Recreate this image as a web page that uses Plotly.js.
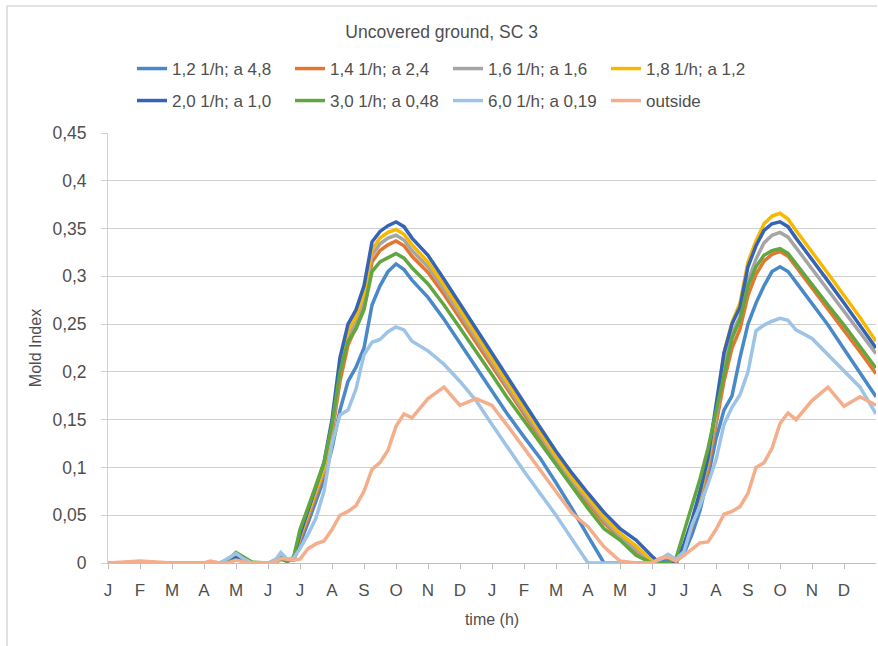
<!DOCTYPE html>
<html>
<head>
<meta charset="utf-8">
<script src="https://cdn.plot.ly/plotly-3.0.1.min.js"></script>
<style>html,body{margin:0;padding:0;background:#fff;}#chart{width:878px;height:646px;}</style>
</head>
<body>
<div id="chart"></div>
<script>
// time in months from start (two years)
const months = [0,1,2,3,3.2,3.5,3.75,4,4.25,4.5,5,5.25,5.4,5.6,5.8,
  6,6.25,6.5,6.75,7,7.25,7.5,7.75,8,8.25,8.5,8.75,9,9.25,9.5,
  10,10.5,11,11.5,12,12.5,13,13.5,14,14.5,15,15.5,16,16.5,17,17.25,17.5,17.75,
  18,18.25,18.5,18.75,19,19.25,19.5,19.75,20,20.25,20.5,20.75,21,21.25,21.5,
  22,22.5,23,23.5,24];

const s12 = [0,0,0,0,0,0,0.003,0.006,0.003,0,0,0.002,0.006,0.003,0.003,
  0.02,0.042,0.065,0.088,0.12,0.16,0.19,0.205,0.225,0.27,0.29,0.305,0.313,0.307,0.296,
  0.278,0.255,0.23,0.205,0.18,0.155,0.132,0.11,0.084,0.057,0.028,0,0,0,0,0,0.004,0.002,
  0.01,0.03,0.055,0.09,0.13,0.16,0.175,0.215,0.25,0.272,0.29,0.305,0.31,0.305,0.294,
  0.272,0.249,0.224,0.199,0.174];
const s14 = [0,0,0,0,0,0,0.002,0.005,0.002,0,0,0.001,0.004,0.002,0.004,
  0.025,0.047,0.07,0.095,0.135,0.19,0.228,0.247,0.27,0.315,0.327,0.333,0.337,0.332,0.321,
  0.304,0.281,0.256,0.231,0.206,0.18,0.155,0.131,0.106,0.083,0.062,0.042,0.026,0.01,0,0,0,0,
  0.015,0.038,0.065,0.098,0.145,0.19,0.225,0.245,0.28,0.302,0.316,0.323,0.326,0.321,0.31,
  0.288,0.266,0.244,0.221,0.198];
const s16 = [0,0,0,0,0,0,0.002,0.005,0.002,0,0,0.001,0.004,0.002,0.004,
  0.027,0.05,0.075,0.098,0.14,0.2,0.238,0.253,0.276,0.322,0.334,0.34,0.343,0.338,0.327,
  0.31,0.286,0.261,0.235,0.21,0.184,0.159,0.134,0.109,0.086,0.065,0.045,0.028,0.014,0,0,0,0,
  0.018,0.042,0.07,0.103,0.152,0.205,0.24,0.258,0.295,0.318,0.335,0.343,0.346,0.341,0.33,
  0.308,0.286,0.264,0.242,0.219];
const s18 = [0,0,0,0,0,0,0.002,0.005,0.002,0,0,0.001,0.004,0.002,0.004,
  0.028,0.052,0.077,0.1,0.145,0.205,0.243,0.258,0.282,0.328,0.34,0.346,0.349,0.344,0.333,
  0.315,0.291,0.265,0.24,0.214,0.188,0.163,0.137,0.112,0.089,0.068,0.048,0.031,0.018,0.002,0,0,0,
  0.018,0.043,0.073,0.108,0.16,0.22,0.252,0.272,0.315,0.337,0.355,0.363,0.366,0.36,0.348,
  0.326,0.303,0.28,0.257,0.232];
const s20 = [0,0,0,0,0,0,0.002,0.006,0.002,0,0,0.001,0.005,0.002,0.005,
  0.03,0.055,0.08,0.105,0.15,0.215,0.25,0.265,0.29,0.336,0.347,0.353,0.357,0.352,0.34,
  0.322,0.297,0.271,0.245,0.219,0.193,0.168,0.142,0.117,0.094,0.073,0.053,0.036,0.024,0.007,0,0,0,
  0.02,0.045,0.075,0.11,0.165,0.22,0.25,0.268,0.31,0.332,0.348,0.355,0.357,0.352,0.34,
  0.318,0.295,0.272,0.249,0.225];
const s30 = [0,0,0,0,0,0,0.003,0.011,0.006,0.001,0,0.001,0.005,0.002,0.006,
  0.035,0.058,0.082,0.105,0.145,0.2,0.232,0.245,0.265,0.305,0.315,0.32,0.324,0.319,0.309,
  0.292,0.27,0.246,0.222,0.197,0.172,0.149,0.126,0.102,0.079,0.057,0.036,0.024,0.008,0,0,0,0.005,
  0.032,0.06,0.088,0.12,0.158,0.2,0.235,0.255,0.29,0.31,0.322,0.327,0.329,0.324,0.313,
  0.292,0.27,0.249,0.227,0.204];
const s60 = [0,0,0,0,0,0,0.005,0.01,0.004,0,0,0.004,0.011,0.004,0.005,
  0.015,0.03,0.047,0.075,0.125,0.155,0.16,0.182,0.218,0.231,0.234,0.242,0.247,0.244,0.232,
  0.222,0.208,0.19,0.17,0.145,0.12,0.096,0.073,0.05,0.025,0,0,0,0,0,0.004,0.009,0.004,
  0.012,0.04,0.06,0.083,0.108,0.145,0.163,0.176,0.2,0.243,0.249,0.253,0.256,0.254,0.244,
  0.235,0.218,0.2,0.184,0.156];
const outside = [0,0.002,0,0,0.002,0,0,0.003,0.001,0,0,0.001,0.005,0.004,0.003,
  0.004,0.015,0.02,0.023,0.035,0.05,0.054,0.06,0.075,0.098,0.105,0.118,0.143,0.156,0.152,
  0.172,0.184,0.165,0.172,0.165,0.143,0.12,0.097,0.075,0.052,0.038,0.017,0.002,0,0,0.005,0.006,0.002,
  0.008,0.015,0.021,0.022,0.035,0.051,0.054,0.059,0.073,0.1,0.105,0.12,0.146,0.157,0.15,
  0.17,0.184,0.164,0.174,0.165];

const seriesNames = ['1,2 1/h; a 4,8','1,4 1/h; a 2,4','1,6 1/h; a 1,6','1,8 1/h; a 1,2',
  '2,0 1/h; a 1,0','3,0 1/h; a 0,48','6,0 1/h; a 0,19','outside'];
const seriesValues = [s12, s14, s16, s18, s20, s30, s60, outside];
const seriesColors = ['#4A89C8','#E4772F','#A5A5A5','#F7B900','#3564B6','#62A640','#9DC3E6','#F4AE8C'];

const monthTickVals = [0,1,2,3,4,5,6,7,8,9,10,11,12,13,14,15,16,17,18,19,20,21,22,23];
const monthTickText = ['J','F','M','A','M','J','J','A','S','O','N','D',
                       'J','F','M','A','M','J','J','A','S','O','N','D'];
const yTickVals = [0,0.05,0.1,0.15,0.2,0.25,0.3,0.35,0.4,0.45];
const yTickText = ['0','0,05','0,1','0,15','0,2','0,25','0,3','0,35','0,4','0,45'];

const FONT = 'Liberation Sans, Arial, sans-serif';
const TXT = '#4f4f4f';

const traces = seriesNames.map((name, i) => ({
  type: 'scatter', mode: 'lines', name: name,
  x: months, y: seriesValues[i],
  line: {color: seriesColors[i], width: 3.5},
  legend: i < 4 ? 'legend' : 'legend2'
}));

// plot area: x 108..876, y 133..563
const L = 108, W = 768, T = 133, H = 430;
const px = v => (v - L) / W;
const py = v => (T + H - v) / H;

const legendCommon = {
  orientation: 'h', xanchor: 'left', yanchor: 'top',
  entrywidth: 113, entrywidthmode: 'pixels', itemwidth: 30,
  font: {family: FONT, size: 17, color: TXT},
  bgcolor: 'rgba(0,0,0,0)', borderwidth: 0
};

const layout = {
  width: 878, height: 646,
  margin: {l: L, r: 878 - L - W, t: T, b: 646 - T - H, pad: 0},
  paper_bgcolor: '#ffffff', plot_bgcolor: '#ffffff',
  font: {family: FONT, color: TXT},
  showlegend: true,
  title: {text: 'Uncovered ground, SC 3', xref: 'container', yref: 'container',
    x: 0.503, xanchor: 'center', y: 1 - 32 / 646, yanchor: 'middle',
    font: {family: FONT, size: 17.5, color: TXT}},
  legend: Object.assign({}, legendCommon, {x: px(132), y: py(51)}),
  legend2: Object.assign({}, legendCommon, {x: px(132), y: py(83)}),
  xaxis: {
    range: [0, 24], tickmode: 'array', tickvals: monthTickVals, ticktext: monthTickText,
    showgrid: false, zeroline: false, showline: true, linecolor: '#bfbfbf', linewidth: 1,
    ticks: 'outside', ticklen: 5, tickcolor: '#bfbfbf', ticklabelstandoff: 7,
    tickfont: {family: FONT, size: 17, color: TXT},
    title: {text: 'time (h)', font: {family: FONT, size: 16, color: TXT}, standoff: 14},
    fixedrange: true
  },
  yaxis: {
    range: [0, 0.45], tickmode: 'array', tickvals: yTickVals, ticktext: yTickText,
    showgrid: true, gridcolor: '#d0d0d0', gridwidth: 1, zeroline: false,
    showline: true, linecolor: '#d0d0d0', linewidth: 1,
    ticks: 'outside', ticklen: 6, tickcolor: '#d0d0d0', ticklabelstandoff: 11,
    tickfont: {family: FONT, size: 17.5, color: TXT},
    title: {text: 'Mold Index', font: {family: FONT, size: 16, color: TXT}, standoff: 6},
    fixedrange: true
  },
  shapes: [
    {type: 'line', xref: 'paper', yref: 'paper', x0: px(7), x1: px(877), y0: py(6), y1: py(6),
     line: {color: '#d9d9d9', width: 1.5}, layer: 'above'},
    {type: 'line', xref: 'paper', yref: 'paper', x0: px(7), x1: px(7), y0: py(6), y1: py(660),
     line: {color: '#d9d9d9', width: 1.5}, layer: 'above'}
  ]
};

Plotly.newPlot('chart', traces, layout, {displayModeBar: false, staticPlot: true});
</script>
</body>
</html>
